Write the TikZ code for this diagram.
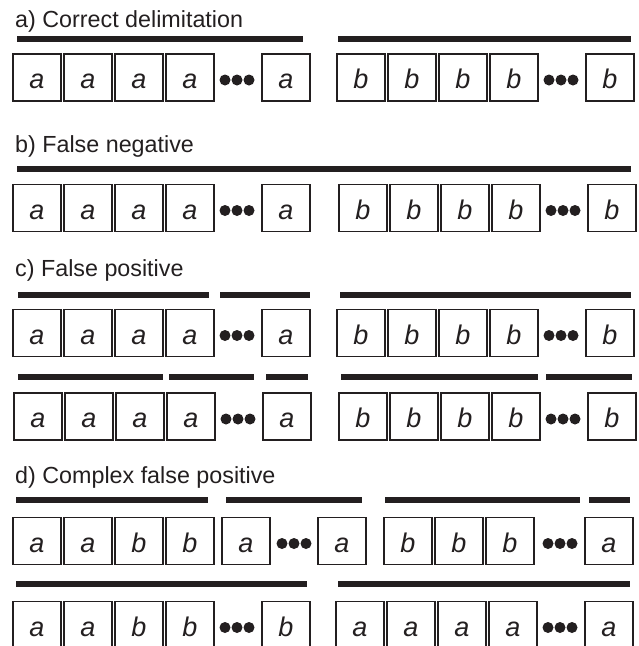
\documentclass[tikz,border=0pt]{standalone}
\usepackage{fontspec}
\setmainfont{Liberation Sans}
\definecolor{ink}{HTML}{231F20}
\tikzset{
  cell/.style={draw=ink, line width=1.2pt, minimum width=48pt, minimum height=47pt,
    inner sep=0pt, text height=22pt, text depth=0pt, text=ink,
    font=\fontsize{27}{27}\selectfont\itshape},
  bar/.style={draw=ink, line width=6pt, line cap=butt},
  title/.style={anchor=base west, inner sep=0pt, text=ink, font=\fontsize{23.3}{23.3}\selectfont},
  dotc/.style={fill=ink}
}
% #1 prefix, #2 left edge, #3 centre y, #4-#8 letters
\newcommand\stdrow[8]{%
  \node[cell] (#1a) at ({#2+24},#3) {#4};
  \node[cell] (#1b) at ({#2+75},#3) {#5};
  \node[cell] (#1c) at ({#2+126},#3) {#6};
  \node[cell] (#1d) at ({#2+177},#3) {#7};
  \node[cell] (#1e) at ({#2+273},#3) {#8};
  \foreach \j in {-1,0,1} \fill[dotc] ({#2+224+12*\j},{#3+2.5}) circle[radius=5.5pt];
}
\begin{document}
\begin{tikzpicture}[x=1pt,y=-1pt]
\useasboundingbox (0,0) rectangle (638,646);

% a)
\node[title] (ta) at (15,27) {a) Correct delimitation};
\draw[bar] (17,38.5) -- (303,38.5);
\draw[bar] (338,38.5) -- (631,38.5);
\stdrow{al}{13}{77.5}{a}{a}{a}{a}{a}
\stdrow{ar}{337}{77.5}{b}{b}{b}{b}{b}

% b)
\node[title] (tb) at (15,152) {b) False negative};
\draw[bar] (17,169) -- (631,169);
\stdrow{bl}{13}{208}{a}{a}{a}{a}{a}
\stdrow{br}{339}{208}{b}{b}{b}{b}{b}

% c)
\node[title] (tc) at (15,276) {c) False positive};
\draw[bar] (18,295) -- (209,295);
\draw[bar] (220,295) -- (310,295);
\draw[bar] (340,295) -- (631,295);
\stdrow{cl}{13}{333}{a}{a}{a}{a}{a}
\stdrow{cr}{337}{333}{b}{b}{b}{b}{b}
\draw[bar] (18,376.5) -- (163,376.5);
\draw[bar] (169,376.5) -- (254,376.5);
\draw[bar] (266,376.5) -- (308,376.5);
\draw[bar] (341,376.5) -- (538,376.5);
\draw[bar] (546,376.5) -- (632,376.5);
\stdrow{ml}{14}{416.5}{a}{a}{a}{a}{a}
\stdrow{mr}{339}{416.5}{b}{b}{b}{b}{b}

% d)
\node[title] (td) at (15,483) {d) Complex false positive};
\draw[bar] (16,500) -- (208,500);
\draw[bar] (226,500) -- (362,500);
\draw[bar] (385,500) -- (580,500);
\draw[bar] (589,500) -- (630,500);
\node[cell] (d1) at (37,541) {a};
\node[cell] (d2) at (88,541) {a};
\node[cell] (d3) at (139,541) {b};
\node[cell] (d4) at (190,541) {b};
\node[cell] (d5) at (246,541) {a};
\foreach \j in {-1,0,1} \fill[dotc] ({294+12*\j},543.5) circle[radius=5.5pt];
\node[cell] (d6) at (342,541) {a};
\node[cell] (d7) at (408,541) {b};
\node[cell] (d8) at (459,541) {b};
\node[cell] (d9) at (510,541) {b};
\foreach \j in {-1,0,1} \fill[dotc] ({560+12*\j},543.5) circle[radius=5.5pt];
\node[cell] (d10) at (609,541) {a};
\draw[bar] (16,583.5) -- (307,583.5);
\draw[bar] (338,583.5) -- (630,583.5);
\stdrow{el}{13}{625}{a}{a}{b}{b}{b}
\stdrow{er}{336}{625}{a}{a}{a}{a}{a}
\end{tikzpicture}
\end{document}
